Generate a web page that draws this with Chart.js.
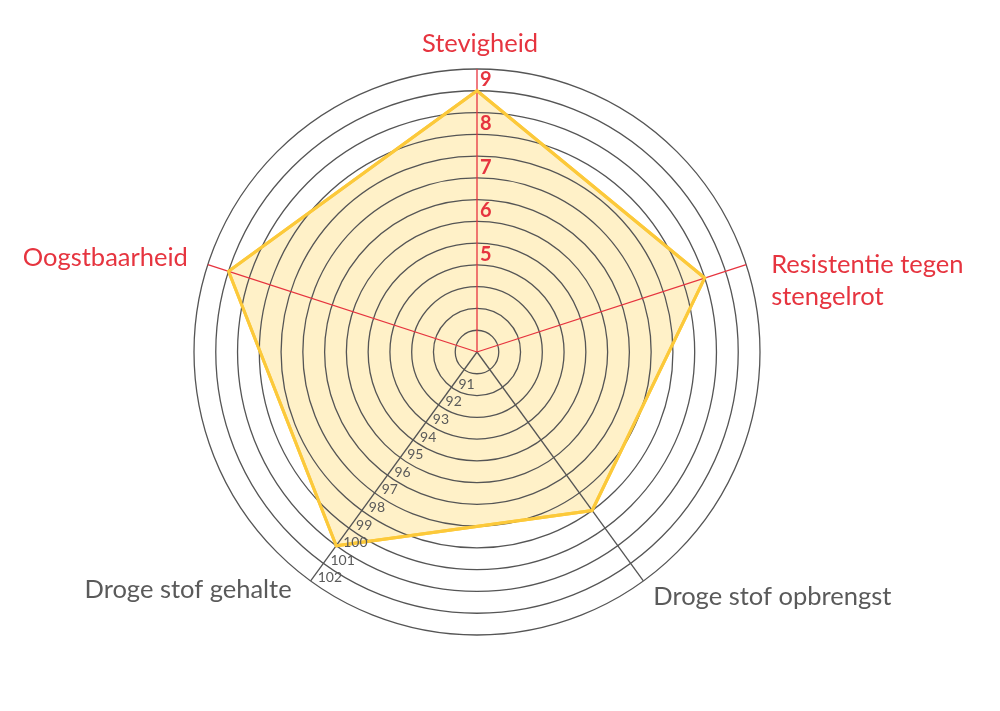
<!DOCTYPE html>
<html>
<head>
<meta charset="utf-8">
<script src="https://cdn.jsdelivr.net/npm/chart.js@4/dist/chart.umd.min.js"></script>
<style>
  html, body { margin: 0; padding: 0; background: #fff; }
  canvas { display: block; }
</style>
</head>
<body>
<canvas id="radar" width="1000" height="711"></canvas>
<script>
// axes, clockwise from the top
const axisLabels = ['Stevigheid', ['Resistentie tegen', 'stengelrot'], 'Droge stof opbrengst', 'Droge stof gehalte', 'Oogstbaarheid'];
const axisKind = ['score', 'score', 'index', 'index', 'score'];
const values = [8.5, 8, 98, 100, 8.5];
const scoreTicks = [5, 6, 7, 8, 9];
const indexTicks = [91, 92, 93, 94, 95, 96, 97, 98, 99, 100, 101, 102];
const rings = 13;

const RED = '#e6343f';
const GREY = '#5a5a5a';
const FONT = 'Lato, "Open Sans", sans-serif';

// both scales share the same rings: score 5..9 sits on every second ring, index on every ring
function toRing(v, kind) { return kind === 'score' ? 2 * v - 5 : v - 89; }

// where each axis title goes, relative to the end of its spoke
const titlePos = [
  { dx: 3, dy: -17, align: 'center' },
  { dx: 25, dy: 8, align: 'left' },
  { dx: 10, dy: 24, align: 'left' },
  { dx: -19, dy: 17, align: 'right' },
  { dx: -20, dy: 1, align: 'right' }
];

const overlay = {
  id: 'overlay',
  afterDraw(chart) {
    const ctx = chart.ctx;
    const r = chart.scales.r;

    // outline on top of the rings
    chart.getDatasetMeta(0).dataset.draw(ctx, chart.chartArea);

    ctx.save();
    // score ticks along the top spoke
    ctx.fillStyle = RED;
    ctx.font = 'bold 20px ' + FONT;
    ctx.textAlign = 'left';
    ctx.textBaseline = 'middle';
    scoreTicks.forEach(t => {
      const p = r.getPointPosition(0, r.getDistanceFromCenterForValue(toRing(t, 'score')));
      ctx.fillText(String(t), p.x + 3, p.y + 11);
    });

    // index ticks along the lower left spoke
    ctx.fillStyle = GREY;
    ctx.font = '14px ' + FONT;
    indexTicks.forEach(t => {
      const p = r.getPointPosition(3, r.getDistanceFromCenterForValue(toRing(t, 'index')));
      ctx.fillText(String(t), p.x + 7, p.y - 3);
    });

    // axis titles
    ctx.font = '25.5px ' + FONT;
    ctx.textBaseline = 'alphabetic';
    axisLabels.forEach((lab, i) => {
      const end = r.getPointPosition(i, r.drawingArea);
      const pos = titlePos[i];
      ctx.fillStyle = axisKind[i] === 'score' ? RED : GREY;
      ctx.textAlign = pos.align;
      [].concat(lab).forEach((line, k) => {
        ctx.fillText(line, end.x + pos.dx, end.y + pos.dy + k * 32.5);
      });
    });
    ctx.restore();
  }
};

new Chart(document.getElementById('radar'), {
  type: 'radar',
  data: {
    labels: axisLabels,
    datasets: [{
      data: values.map((v, i) => toRing(v, axisKind[i])),
      backgroundColor: '#fff1c8',
      borderColor: '#fcc93a',
      borderWidth: 3,
      pointRadius: 0,
      fill: true,
      tension: 0
    }]
  },
  options: {
    responsive: false,
    animation: false,
    layout: { padding: { left: 194, right: 240, top: 69, bottom: 76 } },
    plugins: { legend: { display: false }, tooltip: { enabled: false } },
    scales: {
      r: {
        min: 0,
        max: rings,
        ticks: { display: false, stepSize: 1, z: 1 },
        pointLabels: { display: false },
        // rings and spokes go above the fill
        grid: { circular: true, color: '#555', lineWidth: 1.3, z: 1 },
        angleLines: {
          color: ctx => axisKind[ctx.index] === 'score' ? RED : '#555',
          lineWidth: 1.3
        }
      }
    }
  },
  plugins: [overlay]
});
</script>
</body>
</html>
